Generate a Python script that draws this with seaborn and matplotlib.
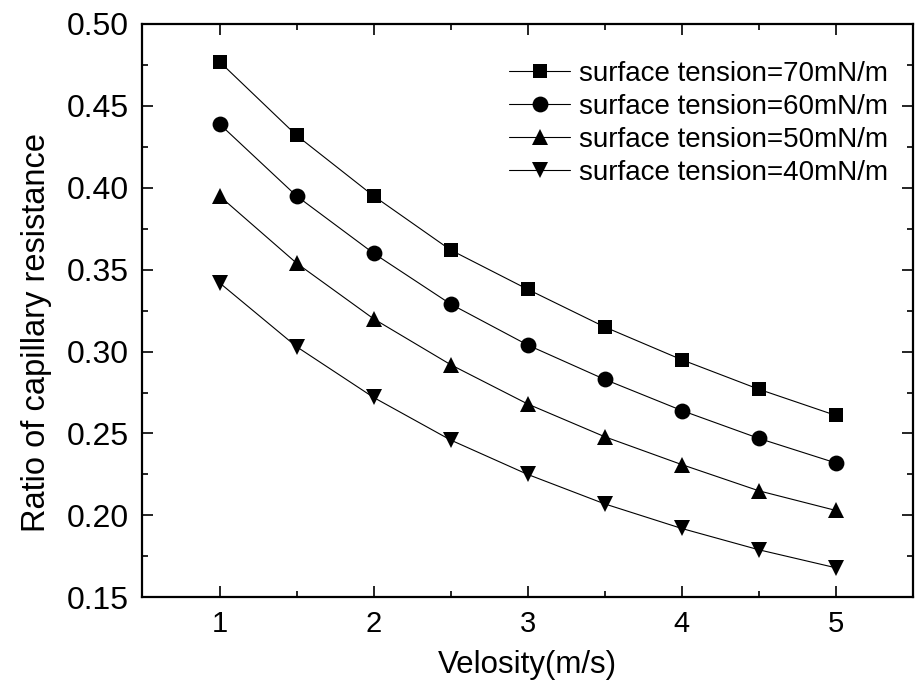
import matplotlib
matplotlib.use("Agg")
import matplotlib.pyplot as plt
from matplotlib.ticker import MultipleLocator, FormatStrFormatter
import seaborn as sns
import pandas as pd

# Flow velocity (m/s)
velocity = [1.0, 1.5, 2.0, 2.5, 3.0, 3.5, 4.0, 4.5, 5.0]

# Ratio of capillary resistance for each surface tension
ratio_70 = [0.477, 0.432, 0.395, 0.362, 0.338, 0.315, 0.295, 0.277, 0.261]
ratio_60 = [0.439, 0.395, 0.360, 0.329, 0.304, 0.283, 0.264, 0.247, 0.232]
ratio_50 = [0.395, 0.354, 0.320, 0.292, 0.268, 0.248, 0.231, 0.215, 0.203]
ratio_40 = [0.342, 0.303, 0.272, 0.246, 0.225, 0.207, 0.192, 0.179, 0.168]

series_labels = [
    "surface tension=70mN/m",
    "surface tension=60mN/m",
    "surface tension=50mN/m",
    "surface tension=40mN/m",
]
series_values = [ratio_70, ratio_60, ratio_50, ratio_40]
series_markers = ["s", "o", "^", "v"]
marker_sizes = [9.4, 11.4, 12.0, 12.0]

sns.set_theme(style="ticks")
plt.rcParams["font.family"] = ["Liberation Sans", "DejaVu Sans"]

frames = []
for label, vals in zip(series_labels, series_values):
    frames.append(pd.DataFrame({"velocity": velocity, "ratio": vals, "series": label}))
df = pd.concat(frames, ignore_index=True)

fig = plt.figure(figsize=(9.19, 6.93), dpi=100)
ax = fig.add_axes([0.155, 0.1381, 0.8385, 0.8273])

for label, marker, ms in zip(series_labels, series_markers, marker_sizes):
    sub = df[df["series"] == label]
    sns.lineplot(
        data=sub, x="velocity", y="ratio", ax=ax,
        color="black", linewidth=0.8, marker=marker, markersize=ms,
        markeredgecolor="black", markerfacecolor="black", markeredgewidth=0,
        label=label, sort=False,
    )

ax.set_xlim(0.5, 5.5)
ax.set_ylim(0.15, 0.50)
ax.xaxis.set_major_locator(MultipleLocator(1))
ax.xaxis.set_minor_locator(MultipleLocator(0.5))
ax.yaxis.set_major_locator(MultipleLocator(0.05))
ax.yaxis.set_minor_locator(MultipleLocator(0.025))
ax.yaxis.set_major_formatter(FormatStrFormatter("%.2f"))

ax.tick_params(which="both", direction="in", top=True, right=True,
               color="black", width=1.2)
ax.tick_params(which="major", length=8)
ax.tick_params(which="minor", length=4.5)
ax.tick_params(axis="y", which="major", labelsize=23, pad=10)
ax.tick_params(axis="x", which="major", labelsize=21, pad=9)
for lbl in ax.get_xticklabels() + ax.get_yticklabels():
    lbl.set_color("black")

for sp in ax.spines.values():
    sp.set_linewidth(1.6)
    sp.set_color("black")

ax.set_xlabel("Velosity(m/s)", fontsize=22.5, color="black")
ax.set_ylabel("Ratio of capillary resistance", fontsize=23.5, color="black")
ax.xaxis.set_label_coords(0.5, -0.092)
ax.yaxis.set_label_coords(-0.117, 0.462)

leg = ax.legend(
    loc="upper left", bbox_to_anchor=(0.5539, 0.912),
    bbox_transform=fig.transFigure, frameon=False, fontsize=20,
    handlelength=2.2, handletextpad=0.33, labelspacing=0.25,
    borderpad=0, borderaxespad=0,
)
for t in leg.get_texts():
    t.set_color("black")

fig.savefig("out.png", dpi=100, facecolor="white")
